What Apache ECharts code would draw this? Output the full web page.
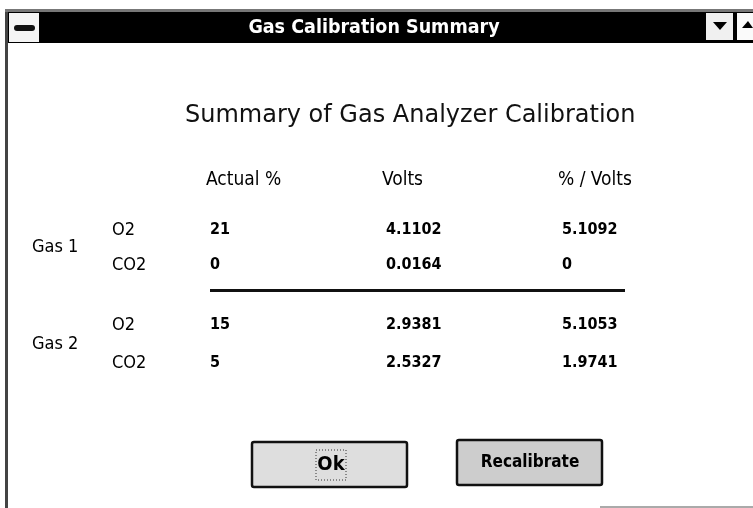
<!DOCTYPE html>
<html>
<head>
<meta charset="utf-8">
<script src="https://cdn.jsdelivr.net/npm/echarts@6/dist/echarts.min.js"></script>
<style>
    html, body { margin: 0; padding: 0; background: #fff; }
    #main { width: 753px; height: 508px; }
</style>
</head>
<body>
<div id="main"></div>
<script>
// table contents
var columns = ['Actual %', 'Volts', '% / Volts'];
var gases = ['Gas 1', 'Gas 2'];
var rows = ['O2', 'CO2'];
var gas1Actual = [21, 0];
var gas1Volts = [4.1102, 0.0164];
var gas1PerVolt = [5.1092, 0];
var gas2Actual = [15, 5];
var gas2Volts = [2.9381, 2.5327];
var gas2PerVolt = [5.1053, 1.9741];

var chart = echarts.init(document.getElementById('main'));

var narrow = "'DejaVu Sans Condensed', 'Liberation Sans Narrow', sans-serif";

function cells(actual, volts, perVolt) {
    var out = [];
    for (var r = 0; r < rows.length; r++) {
        out.push([0, r, actual[r]]);
        out.push([1, r, volts[r]]);
        out.push([2, r, perVolt[r]]);
    }
    return out;
}

function cellSeries(idx, data) {
    return {
        type: 'scatter',
        xAxisIndex: idx,
        yAxisIndex: idx,
        symbolSize: 1,
        itemStyle: { color: '#fff' },
        silent: true,
        label: {
            show: true,
            position: 'inside',
            align: 'left',
            verticalAlign: 'middle',
            color: '#000',
            opacity: 1,
            textBorderWidth: 0,
            fontFamily: narrow,
            fontWeight: 'bold',
            fontSize: 16,
            formatter: function (p) { return String(p.data[2]); }
        },
        data: data
    };
}

function yAx(idx) {
    return {
        type: 'category',
        gridIndex: idx,
        data: rows,
        inverse: true,
        axisLine: { show: false },
        axisTick: { show: false },
        splitLine: { show: false },
        axisLabel: { align: 'left', margin: 10, color: '#000', fontFamily: narrow, fontSize: 18 },
        name: gases[idx],
        nameLocation: 'middle',
        nameRotate: 0,
        nameGap: 90,
        nameTextStyle: { align: 'left', color: '#000', fontFamily: narrow, fontSize: 18 }
    };
}

function xAx(idx) {
    return {
        type: 'category',
        gridIndex: idx,
        data: columns,
        position: 'top',
        axisLine: { show: false },
        axisTick: { show: false },
        splitLine: { show: false },
        axisLabel: {
            show: idx === 0,
            align: 'left',
            margin: 23,
            color: '#000',
            fontFamily: narrow,
            fontSize: 19,
            padding: [0, 0, 0, -4]
        }
    };
}

var option = {
    backgroundColor: '#fff',
    animation: false,
    title: {
        text: 'Summary of Gas Analyzer Calibration',
        left: 180,
        top: 99,
        textStyle: { fontFamily: "'DejaVu Sans', sans-serif", fontWeight: 'normal', fontSize: 24, color: '#111' }
    },
    grid: [
        { left: 122, width: 528, top: 212.5, height: 70 },
        { left: 122, width: 528, top: 306, height: 76 }
    ],
    xAxis: [xAx(0), xAx(1)],
    yAxis: [yAx(0), yAx(1)],
    series: [
        cellSeries(0, cells(gas1Actual, gas1Volts, gas1PerVolt)),
        cellSeries(1, cells(gas2Actual, gas2Volts, gas2PerVolt))
    ],
    graphic: [
        // window frame
        { type: 'rect', shape: { x: 5, y: 10, width: 3, height: 498 }, style: { fill: '#444' } },
        { type: 'rect', shape: { x: 5, y: 9, width: 748, height: 3 }, style: { fill: '#777' } },
        // title bar
        { type: 'rect', shape: { x: 8, y: 12, width: 745, height: 31 }, style: { fill: '#000' } },
        { type: 'rect', shape: { x: 9, y: 13, width: 30, height: 29 }, style: { fill: '#f4f4f4' } },
        { type: 'rect', shape: { x: 14, y: 25, width: 21, height: 6, r: 3 }, style: { fill: '#111' } },
        { type: 'text', x: 374, y: 28, style: { text: 'Gas Calibration Summary', fill: '#fff', font: "bold 19.5px 'DejaVu Sans Condensed', sans-serif", align: 'center', verticalAlign: 'middle' } },
        { type: 'rect', shape: { x: 706, y: 13, width: 27, height: 27 }, style: { fill: '#f0f0f0' } },
        { type: 'polygon', shape: { points: [[713, 22], [727, 22], [720, 30]] }, style: { fill: '#000' } },
        { type: 'rect', shape: { x: 737, y: 13, width: 16, height: 27 }, style: { fill: '#fafafa' } },
        { type: 'polygon', shape: { points: [[742, 28], [753, 28], [748, 21]] }, style: { fill: '#000' } },
        // separator between gases
        { type: 'rect', shape: { x: 210, y: 289, width: 415, height: 3 }, style: { fill: '#111' } },
        // buttons
        { type: 'rect', shape: { x: 252, y: 442, width: 155, height: 45, r: 2 }, style: { fill: '#dedede', stroke: '#111', lineWidth: 2.5 } },
        { type: 'rect', shape: { x: 316, y: 450, width: 30, height: 30 }, style: { fill: 'none', stroke: '#333', lineWidth: 1, lineDash: [1, 2] } },
        { type: 'text', x: 331, y: 465, style: { text: 'Ok', fill: '#000', font: "bold 20px 'DejaVu Sans Condensed', sans-serif", align: 'center', verticalAlign: 'middle' } },
        { type: 'rect', shape: { x: 457, y: 440, width: 145, height: 45, r: 2 }, style: { fill: '#cdcdcd', stroke: '#111', lineWidth: 2.5 } },
        { type: 'text', x: 530, y: 463, style: { text: 'Recalibrate', fill: '#000', font: "bold 17px 'DejaVu Sans Condensed', sans-serif", align: 'center', verticalAlign: 'middle' } },
        // bottom edge fragment
        { type: 'rect', shape: { x: 600, y: 506, width: 153, height: 2 }, style: { fill: '#aaa' } }
    ]
};

chart.setOption(option);
</script>
</body>
</html>
